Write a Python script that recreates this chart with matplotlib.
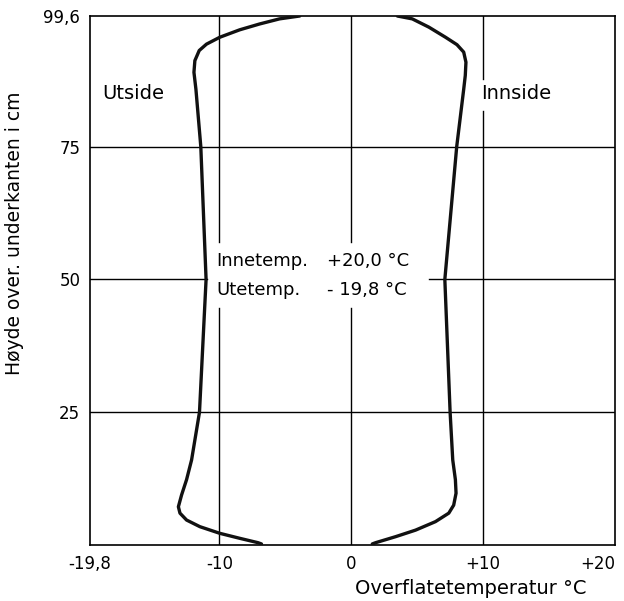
import matplotlib
matplotlib.use("Agg")
from matplotlib import pyplot as plt

# surface temperature along the window height
hoyde_ute = [0.2, 0.44, 1.26, 2.2, 3.45, 4.7, 6.0, 7.2, 9.4, 12.3, 16.0, 25, 50, 75,
             85.8, 89.0, 91.2, 93.1, 94.3, 95.6, 97.0, 98.1, 99.06, 99.6]
temp_ute = [-6.8, -7.07, -8.45, -9.96, -11.47, -12.48, -12.98, -13.1, -12.86, -12.48, -12.1, -11.5, -11.0, -11.4,
            -11.77, -11.92, -11.85, -11.52, -10.97, -9.96, -8.45, -6.94, -5.43, -3.9]

hoyde_inne = [0.2, 0.44, 1.57, 2.8, 4.4, 6.0, 7.5, 9.75, 12.3, 16.0, 25, 50, 75,
              85.8, 88.4, 90.9, 92.8, 94.2, 95.6, 97.5, 99.06, 99.6]
temp_inne = [1.6, 1.86, 3.37, 4.88, 6.39, 7.40, 7.77, 7.95, 7.9, 7.7, 7.5, 7.1, 8.0,
             8.53, 8.65, 8.70, 8.53, 8.02, 7.15, 5.89, 4.63, 3.5]

x_ticks = [-19.8, -10, 0, 10, 20]
x_labels = ["-19,8", "-10", "0", "+10", "+20"]
y_ticks = [25, 50, 75, 99.6]
y_labels = ["25", "50", "75", "99,6"]

fig = plt.figure(figsize=(6.24, 6.01), dpi=100)
ax = fig.add_axes([90 / 624, 56 / 601, 525 / 624, 529 / 601])
ax.set_xlim(-19.8, 20)
ax.set_ylim(0, 99.6)

# grid, with gaps where the labels sit
g = dict(color="black", lw=1.0, zorder=1)
ax.plot([-10, -10], [0, 44.7], **g)
ax.plot([-10, -10], [57.0, 99.6], **g)
ax.plot([0, 0], [0, 44.7], **g)
ax.plot([0, 0], [57.0, 99.6], **g)
ax.plot([10, 10], [0, 81.7], **g)
ax.plot([10, 10], [87.7, 99.6], **g)
ax.plot([-19.8, 20], [25, 25], **g)
ax.plot([-19.8, 20], [75, 75], **g)
ax.plot([-19.8, -10.9], [50, 50], **g)
ax.plot([5.9, 20], [50, 50], **g)

kw = dict(color="#111111", lw=2.4, solid_capstyle="round", solid_joinstyle="round", zorder=3)
ax.plot(temp_ute, hoyde_ute, **kw)
ax.plot(temp_inne, hoyde_inne, **kw)

for s in ax.spines.values():
    s.set_linewidth(1.2)

ax.set_xticks(x_ticks)
ax.set_xticklabels(x_labels)
ax.set_yticks(y_ticks)
ax.set_yticklabels(y_labels)
ax.tick_params(length=0, labelsize=12, pad=7)
ax.get_xticklabels()[-1].set_horizontalalignment("right")

ax.text(-18.9, 85.0, "Utside", fontsize=14, va="center", ha="left")
ax.text(9.85, 85.0, "Innside", fontsize=14, va="center", ha="left",
        bbox=dict(facecolor="white", edgecolor="none", pad=0))
ax.text(-10.2, 53.4, "Innetemp.", fontsize=13, va="center", ha="left")
ax.text(-10.2, 48.1, "Utetemp.", fontsize=13, va="center", ha="left")
ax.text(-1.8, 53.4, "+20,0 °C", fontsize=13, va="center", ha="left")
ax.text(-1.8, 48.1, "- 19,8 °C", fontsize=13, va="center", ha="left")

fig.text(15 / 624, 0.612, "Høyde over. underkanten i cm", rotation=90,
         fontsize=13.5, va="center", ha="center")
fig.text(471 / 624, 13 / 601, "Overflatetemperatur °C", fontsize=14,
         va="center", ha="center")

plt.savefig("out.png", dpi=100)
